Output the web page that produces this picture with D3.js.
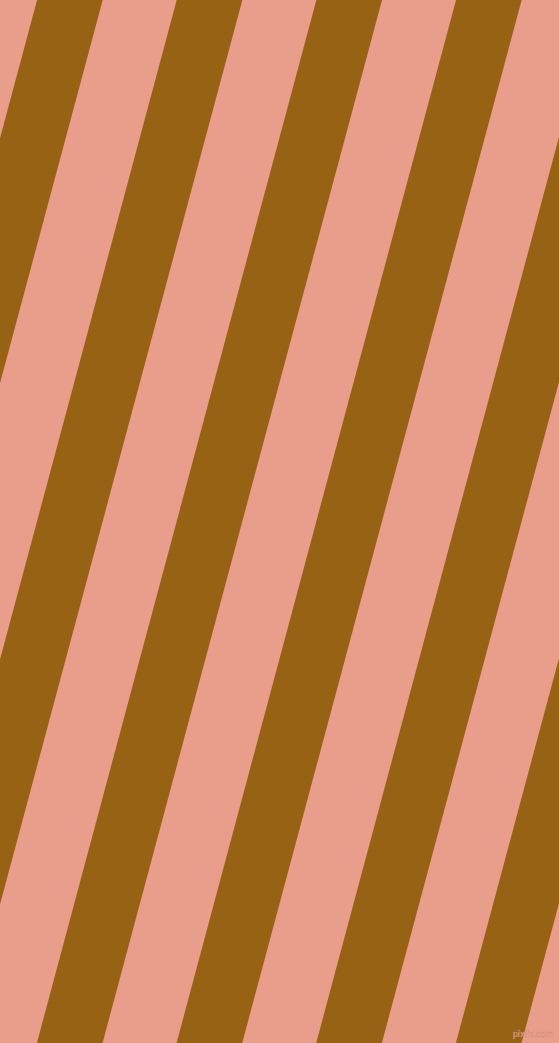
<!DOCTYPE html>
<html>
<head>
<meta charset="utf-8">
<script src="https://cdn.jsdelivr.net/npm/d3@7"></script>
<style>
html,body{margin:0;padding:0;overflow:hidden;background:#e89e8a;}
svg{display:block;}
</style>
</head>
<body>
<svg id="chart" width="559" height="1043"></svg>
<script>
// Data
const stripeIndex = [-1, 0, 1, 2, 3, 4, 5, 6];
const stripeColors = ["#e89e8a", "#976213"]; // background, stripe
const watermark = ["pixlis.com"];

const W = 559, H = 1043;
const angle = 15;          // degrees from vertical
const period = 134.9;      // perpendicular repeat
const bandWidth = 63.4;    // brown band width (perpendicular)
const offset = 35.8;       // first band edge, perpendicular coordinate

const svg = d3.select("#chart");
svg.append("rect").attr("width", W).attr("height", H).attr("fill", stripeColors[0]);

const x = d3.scaleLinear().domain([0, 1]).range([offset, offset + period]);

const g = svg.append("g").attr("transform", `rotate(${angle})`);
g.selectAll("rect.band")
  .data(stripeIndex)
  .join("rect")
  .attr("class", "band")
  .attr("x", d => x(d))
  .attr("y", -400)
  .attr("width", bandWidth)
  .attr("height", 1600)
  .attr("fill", stripeColors[1]);

svg.append("text")
  .attr("x", 553).attr("y", 1037)
  .attr("text-anchor", "end")
  .attr("font-family", "DejaVu Sans, sans-serif")
  .attr("font-size", 8)
  .attr("fill", "#f0b09e")
  .attr("stroke", "#c88470").attr("stroke-width", 0.3)
  .text(watermark[0]);
</script>
</body>
</html>
